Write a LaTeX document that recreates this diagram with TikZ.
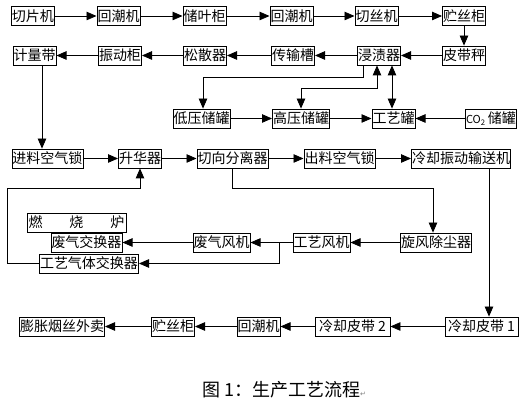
\documentclass[tikz,border=0pt]{standalone}
\usepackage{fontspec}
\setmainfont{Noto Sans CJK SC}
\newfontfamily\markfont{DejaVu Sans}
\usetikzlibrary{arrows.meta, positioning}

\begin{document}
\begin{tikzpicture}[
  x=1pt, y=-1pt,
  box/.style={rectangle, draw=black, line width=0.8pt, inner xsep=0.6pt, inner ysep=0pt, minimum height=19pt, align=center, font=\fontsize{14}{14}\selectfont},
  arr/.style={-{Triangle[length=10pt, width=8.5pt]}, line width=0.8pt},
  dbl/.style={{Triangle[length=10pt, width=8.5pt]}-{Triangle[length=10pt, width=8.5pt]}, line width=0.8pt},
  caption/.style={font=\fontsize{18}{18}\selectfont, anchor=west, inner sep=0pt}
]
\useasboundingbox (0,0) rectangle (531,403);

\node[box] (qpj) at (33, 16) {切片机};
\node[box] (hcjA) at (118.5, 16) {回潮机};
\node[box] (cyg) at (204.5, 16) {储叶柜};
\node[box] (hcjB) at (291.5, 16) {回潮机};
\node[box] (qsj) at (376.5, 16) {切丝机};
\node[box] (zsgA) at (464, 16) {贮丝柜};

\draw[arr] (qpj) -- (hcjA);
\draw[arr] (hcjA) -- (cyg);
\draw[arr] (cyg) -- (hcjB);
\draw[arr] (hcjB) -- (qsj);
\draw[arr] (qsj) -- (zsgA);

\node[box] (jld) at (34.5, 55.5) {计量带};
\node[box] (zdg) at (120, 55.5) {振动柜};
\node[box] (ssq) at (205, 55.5) {松散器};
\node[box] (csc) at (293, 55.5) {传输槽};
\node[box] (jzq) at (379, 55.5) {浸渍器};
\node[box] (pdc) at (464, 55.5) {皮带秤};

\draw[arr] (zsgA) -- (pdc);
\draw[arr] (pdc) -- (jzq);
\draw[arr] (jzq) -- (csc);
\draw[arr] (csc) -- (ssq);
\draw[arr] (ssq) -- (zdg);
\draw[arr] (zdg) -- (jld);

\node[box] (dycg) at (201.5, 118.5) {低压储罐};
\node[box] (gycg) at (301, 118.5) {高压储罐};
\node[box] (gyg) at (393.5, 118.5) {工艺罐};
\node[box, minimum width=50pt] (co2) at (491, 118.5) {{\fontsize{11}{11}\selectfont CO\textsubscript{2}}\,储罐};

\draw[arr] (363,0 |- jzq.south) |- (203,77) -- (203,0 |- dycg.north);
\draw[dbl] (377,0 |- jzq.south) |- (301,88) -- (301,0 |- gycg.north);
\draw[dbl] (392,0 |- jzq.south) -- (392,0 |- gyg.north);
\draw[arr] (dycg) -- (gycg);
\draw[arr] (gycg) -- (gyg);
\draw[arr] (co2) -- (gyg);

\node[box] (jlkqs) at (47.5, 158.5) {进料空气锁};
\node[box] (shq) at (140, 158.5) {升华器};
\node[box] (qxflq) at (232.5, 158.5) {切向分离器};
\node[box] (clkqs) at (339.5, 158.5) {出料空气锁};
\node[box] (lqzd) at (461, 158.5) {冷却振动输送机};

\draw[arr] (42,0 |- jld.south) -- (42,0 |- jlkqs.north);
\draw[arr] (jlkqs) -- (shq);
\draw[arr] (shq) -- (qxflq);
\draw[arr] (qxflq) -- (clkqs);
\draw[arr] (clkqs) -- (lqzd);

\node[box, minimum width=99pt] (rsl) at (76.5, 222.5) {燃\hspace{27pt}烧\hspace{27pt}炉};
\node[box] (fqjhq) at (86.5, 242.5) {废气交换器};
\node[box] (gyqtjhq) at (89, 263.5) {工艺气体交换器};
\node[box] (fqfj) at (221.5, 242.5) {废气风机};
\node[box] (gyfj) at (321.5, 242.5) {工艺风机};
\node[box] (xfccq) at (436, 242.5) {旋风除尘器};

\draw[arr] (qxflq.south) |- (433,188) -- (433,0 |- xfccq.north);
\draw[arr] (xfccq) -- (gyfj);
\draw[arr] (gyfj) -- (fqfj);
\draw[arr] (fqfj) -- (fqjhq);
\draw[arr] (279,0 |- gyfj.west) |- (gyqtjhq.east);
\draw[arr] (gyqtjhq.west) -| (7,188) -| (shq.south);

\node[box] (pzys) at (62, 326.5) {膨胀烟丝外卖};
\node[box] (zsgB) at (173, 326.5) {贮丝柜};
\node[box] (hcjC) at (258.5, 326.5) {回潮机};
\node[box, minimum width=75pt] (lqpdB) at (352.5, 326.5) {冷却皮带 2};
\node[box, minimum width=73pt] (lqpdA) at (481.5, 326.5) {冷却皮带 1};

\draw[arr] (489,0 |- lqzd.south) -- (489,0 |- lqpdA.north);
\draw[arr] (lqpdA) -- (lqpdB);
\draw[arr] (lqpdB) -- (hcjC);
\draw[arr] (hcjC) -- (zsgB);
\draw[arr] (zsgB) -- (pzys);

\node[caption] (cap) at (202, 390) {图 1：生产工艺流程{\markfont\fontsize{7}{7}\selectfont\color{gray}↵}};

\end{tikzpicture}
\end{document}
